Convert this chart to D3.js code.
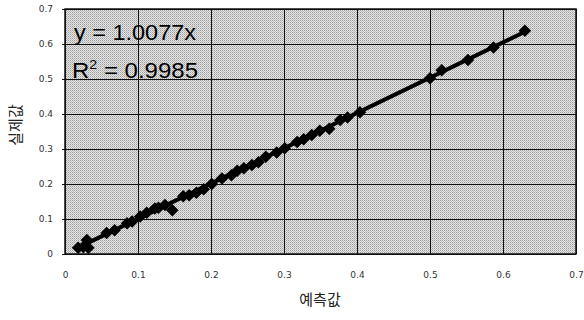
<!DOCTYPE html>
<html>
<head>
<meta charset="utf-8">
<script src="https://cdn.jsdelivr.net/npm/d3@7"></script>
<style>
  body { margin: 0; background: #fff; }
  .tick text { font-family: "DejaVu Sans", sans-serif; font-size: 9px; fill: #333; }
</style>
</head>
<body>
<svg id="chart" width="584" height="320"></svg>
<script>
// predicted (x) and actual (y) values
const predicted = [0.018, 0.025, 0.032, 0.030, 0.057, 0.068, 0.085, 0.092, 0.103, 0.112,
  0.123, 0.128, 0.137, 0.147, 0.162, 0.170, 0.180, 0.190, 0.201, 0.215,
  0.228, 0.236, 0.245, 0.256, 0.265, 0.275, 0.290, 0.301, 0.318, 0.327,
  0.338, 0.349, 0.362, 0.377, 0.387, 0.404, 0.500, 0.516, 0.552, 0.587, 0.630];
const actual = [0.018, 0.020, 0.018, 0.040, 0.060, 0.068, 0.088, 0.093, 0.107, 0.118,
  0.130, 0.132, 0.140, 0.125, 0.165, 0.168, 0.175, 0.185, 0.200, 0.216,
  0.225, 0.238, 0.245, 0.254, 0.262, 0.278, 0.290, 0.302, 0.320, 0.328,
  0.340, 0.352, 0.358, 0.383, 0.390, 0.405, 0.502, 0.525, 0.554, 0.590, 0.638];
const ticks = [0, 0.1, 0.2, 0.3, 0.4, 0.5, 0.6, 0.7];
const slope = 1.0077;
const eqText = "y = 1.0077x";
const r2Text = "0.9985";
const xTitle = "예측값";
const yTitle = "실제값";

const svg = d3.select("#chart");
const pLeft = 65, pRight = 576, pTop = 9, pBottom = 254;

const x = d3.scaleLinear().domain([0, 0.7]).range([pLeft, pRight]);
const y = d3.scaleLinear().domain([0, 0.7]).range([pBottom, pTop]);

// stippled grey background like the scanned original
const pat = svg.append("defs").append("pattern")
  .attr("id", "stipple").attr("width", 2).attr("height", 2)
  .attr("patternUnits", "userSpaceOnUse");
pat.append("rect").attr("width", 2).attr("height", 2).attr("fill", "#e6e6e6");
pat.append("rect").attr("width", 1).attr("height", 1).attr("fill", "#9c9c9c");
pat.append("rect").attr("x", 1).attr("y", 1).attr("width", 1).attr("height", 1).attr("fill", "#bcbcbc");

svg.append("rect")
  .attr("x", pLeft).attr("y", pTop)
  .attr("width", pRight - pLeft).attr("height", pBottom - pTop)
  .attr("fill", "url(#stipple)");

// gridlines
svg.append("g")
  .attr("transform", `translate(0,${pBottom})`)
  .call(d3.axisBottom(x).tickValues(ticks).tickSize(-(pBottom - pTop)).tickFormat(""))
  .call(g => g.select(".domain").remove())
  .call(g => g.selectAll("line").attr("stroke", "#111").attr("stroke-width", 1));
svg.append("g")
  .attr("transform", `translate(${pLeft},0)`)
  .call(d3.axisLeft(y).tickValues(ticks).tickSize(-(pRight - pLeft)).tickFormat(""))
  .call(g => g.select(".domain").remove())
  .call(g => g.selectAll("line").attr("stroke", "#111").attr("stroke-width", 1));

// axis labels
svg.append("g")
  .attr("transform", `translate(0,${pBottom})`)
  .call(d3.axisBottom(x).tickValues(ticks).tickSize(0).tickPadding(18)
    .tickFormat(d => d === 0 ? "0" : d3.format(".1f")(d)))
  .call(g => g.select(".domain").remove());
svg.append("g")
  .attr("transform", `translate(${pLeft},0)`)
  .call(d3.axisLeft(y).tickValues(ticks).tickSize(3).tickPadding(9)
    .tickFormat(d => d === 0 ? "0" : d3.format(".1f")(d)))
  .call(g => g.select(".domain").remove())
  .call(g => g.selectAll("line").attr("stroke", "#111"));

svg.append("rect")
  .attr("x", pLeft).attr("y", pTop)
  .attr("width", pRight - pLeft).attr("height", pBottom - pTop)
  .attr("fill", "none").attr("stroke", "#111").attr("stroke-width", 1.5);

// trendline
const xr = d3.extent(predicted);
svg.append("line")
  .attr("x1", x(xr[0])).attr("y1", y(slope * xr[0]))
  .attr("x2", x(xr[1])).attr("y2", y(slope * xr[1]))
  .attr("stroke", "#000").attr("stroke-width", 4);

// diamond markers
svg.selectAll(".pt")
  .data(predicted)
  .enter()
  .append("path")
  .attr("class", "pt")
  .attr("transform", (d, i) => `translate(${x(predicted[i])},${y(actual[i])})`)
  .attr("d", d3.symbol().type(d3.symbolDiamond2).size(100))
  .attr("fill", "#000");

// equation text
const eq = svg.append("g").attr("font-family", "Liberation Sans, Arial, sans-serif")
  .attr("font-size", 22).attr("fill", "#000");
eq.append("text").attr("x", 74).attr("y", 40)
  .attr("textLength", 122).attr("lengthAdjust", "spacingAndGlyphs").text(eqText);
const r = eq.append("text").attr("x", 72).attr("y", 78)
  .attr("textLength", 126).attr("lengthAdjust", "spacingAndGlyphs");
r.append("tspan").text("R");
r.append("tspan").attr("font-size", 13).attr("dy", -9).text("2");
r.append("tspan").attr("dy", 9).text(" = " + r2Text);

// titles
svg.append("text")
  .attr("x", 320).attr("y", 305)
  .attr("text-anchor", "middle")
  .attr("font-family", "Noto Sans CJK KR, sans-serif")
  .attr("font-size", 15).attr("fill", "#222")
  .text(xTitle);
svg.append("text")
  .attr("transform", "translate(21,125) rotate(-90)")
  .attr("text-anchor", "middle")
  .attr("font-family", "Noto Sans CJK KR, sans-serif")
  .attr("font-size", 15).attr("fill", "#222")
  .text(yTitle);
</script>
</body>
</html>
